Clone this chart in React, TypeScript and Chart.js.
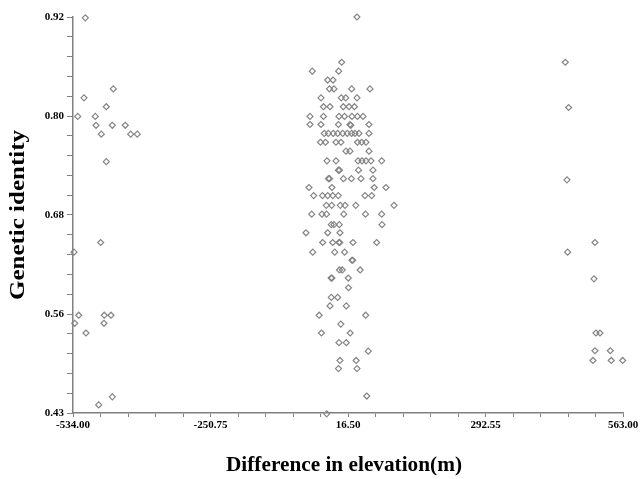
import React, { useEffect, useRef } from "react";
import { Chart, registerables } from "chart.js";

Chart.register(...registerables);

// Tick labels as printed on the reference axes
const xTickLabels = ["-534.00", "-250.75", "16.50", "292.55", "563.00"];
const yTickLabels = ["0.43", "0.56", "0.68", "0.80", "0.92"];
const xTitle = "Difference in elevation(m)";
const yTitle = "Genetic identity";

const xMin = -534;
const xMax = 563;
const yMin = 0.434;
const yMax = 0.924;

// Pairwise comparisons: difference in elevation (m) vs genetic identity
const leftX = [-509.5, -512.1, -453.6, -524.6, -489.5, -467.6, -488.1, -455.6, -429.7, -477.6, -418.9, -405.8, -467.6, -478.8, -532, -522.6, -530.6, -508.1, -471.6, -458.2, -472.2, -455.6, -482.7];
const leftY = [0.923, 0.824, 0.835, 0.801, 0.801, 0.813, 0.790, 0.790, 0.790, 0.779, 0.779, 0.779, 0.745, 0.645, 0.633, 0.555, 0.545, 0.533, 0.555, 0.555, 0.545, 0.454, 0.444];

const centerX = [
  32.4,
  1.9,
  -56.7, -4.1,
  -26, -15.4,
  -22.4, -13.5, 21.8, 58.3,
  -39.4, 1.1, 9.9, 32.4,
  -34.4, -21.4, 5.1, 16.5, 27.4,
  -61.3, -34.4, -3.5, 7.5, 22.4, 33.4, 44.4,
  -61.3, -39.4, -4.5, 18.4, 20, 56.3,
  -32.8, -24.8, -14.9, -6.1, 3.9, 13.1, 21.8, 28.4, 36.4, 56.3,
  -40.4, -30.4, -9.5, 0.5, 33.4, 41.8, 50.4,
  10.5, 18.4, 56.3,
  -27.4, -9.5, 34.4, 42.4, 50.4, 60.3, 81.7,
  -4.5, -2.5, 35.4, 64.3,
  -24.4, -22.4, 5.5, 21.4, 40.4, 64.3,
  -63.3, -17.5, 66.9, 90.2,
  -54, -36.4, -26, -16, -4.9, 48.4, 61.7,
  -28.8, -18, -0.9, 8.5, 30, 106.2,
  -57.9, -37.4, -28.4, 6.1, 49.4, 81.7,
  -18.8, -13.5, -2.9, 82.3,
  -69.3, -26, -1.5,
  -36, -16, -3.5, -1.9, 24.4, 71.7,
  -55.9, -11.9, 7.7,
  22.4, 24,
  -2.5, 3.1, 38.8,
  -19, -17.6, 15.1,
  15.5,
  -18.8, -6.1,
  -21.4, 11.1,
  -43, 49.8,
  0.1,
  -38.4, 18.8,
  -3.5, 11.1,
  54.9,
  -1.5, 30.8,
  -4.5, 32.4,
  52,
  -28,
];
const centerY = [
  0.924,
  0.868,
  0.857, 0.857,
  0.846, 0.846,
  0.835, 0.835, 0.835, 0.835,
  0.824, 0.824, 0.824, 0.824,
  0.813, 0.813, 0.813, 0.813, 0.813,
  0.801, 0.801, 0.801, 0.801, 0.801, 0.801, 0.801,
  0.791, 0.791, 0.791, 0.791, 0.790, 0.791,
  0.780, 0.780, 0.780, 0.780, 0.780, 0.780, 0.780, 0.780, 0.780, 0.780,
  0.769, 0.769, 0.769, 0.769, 0.769, 0.769, 0.769,
  0.758, 0.758, 0.758,
  0.746, 0.746, 0.746, 0.746, 0.746, 0.746, 0.746,
  0.7345, 0.7345, 0.7345, 0.7345,
  0.724, 0.724, 0.724, 0.724, 0.724, 0.724,
  0.713, 0.713, 0.713, 0.713,
  0.703, 0.703, 0.703, 0.703, 0.703, 0.703, 0.703,
  0.691, 0.691, 0.691, 0.691, 0.691, 0.691,
  0.680, 0.680, 0.680, 0.680, 0.680, 0.680,
  0.667, 0.667, 0.667, 0.667,
  0.657, 0.657, 0.657,
  0.645, 0.645, 0.645, 0.645, 0.645, 0.645,
  0.633, 0.633, 0.633,
  0.623, 0.623,
  0.611, 0.611, 0.611,
  0.601, 0.601, 0.601,
  0.589,
  0.577, 0.577,
  0.5665, 0.5665,
  0.555, 0.555,
  0.544,
  0.533, 0.533,
  0.521, 0.521,
  0.5105,
  0.499, 0.499,
  0.489, 0.489,
  0.455,
  0.433,
];

const rightX = [447.9, 454.6, 451.2, 452.6, 507.1, 505.1, 509.1, 517.1, 507.1, 537.6, 503.1, 539.6, 562.3];
const rightY = [0.868, 0.812, 0.7225, 0.633, 0.645, 0.600, 0.533, 0.533, 0.511, 0.511, 0.499, 0.499, 0.499];

const allX = [...leftX, ...centerX, ...rightX];
const allY = [...leftY, ...centerY, ...rightY];

const W = 640;
const H = 479;
const AREA_LEFT = 73;
const AREA_RIGHT = 623;
const AREA_TOP = 17;
const AREA_BOTTOM = 413;
const FONT = "'Liberation Serif', 'Times New Roman', serif";

// Axis titles drawn as real text, stretched along their reading direction like the reference
const axisTitlePlugin = {
  id: "axisTitles",
  afterDraw(chart: any) {
    const ctx = chart.ctx as CanvasRenderingContext2D;
    const area = chart.chartArea;
    ctx.save();
    ctx.fillStyle = "#000";
    ctx.font = `bold 19px ${FONT}`;
    ctx.textAlign = "center";
    ctx.textBaseline = "middle";
    const xw = ctx.measureText(xTitle).width;
    const xs = 236 / xw;
    ctx.save();
    ctx.translate((area.left + area.right) / 2 - 4, 466);
    ctx.scale(xs, 1.05);
    ctx.fillText(xTitle, 0, 0);
    ctx.restore();
    const yw = ctx.measureText(yTitle).width;
    const ys = 170 / yw;
    ctx.save();
    ctx.translate(19, (area.top + area.bottom) / 2);
    ctx.rotate(-Math.PI / 2);
    ctx.scale(ys, 1.05);
    ctx.fillText(yTitle, 0, 0);
    ctx.restore();
    ctx.restore();
  },
};

export default function App() {
  const ref = useRef<HTMLCanvasElement | null>(null);

  useEffect(() => {
    if (!ref.current) return;
    const points = allX.map((x, i) => ({ x, y: allY[i] }));
    const xStep = (xMax - xMin) / 4;
    const yStep = (yMax - yMin) / 4;
    const xMinor = xStep / 5;
    const yMinor = yStep / 5;

    const chart = new Chart(ref.current, {
      type: "scatter",
      data: {
        datasets: [
          {
            data: points,
            pointStyle: "rectRot",
            pointRadius: 3,
            pointHoverRadius: 3,
            pointBorderWidth: 1.2,
            pointBorderColor: "#858585",
            pointBackgroundColor: "rgba(255,255,255,0)",
            clip: false as any,
          },
        ],
      },
      plugins: [axisTitlePlugin],
      options: {
        responsive: false,
        animation: false,
        layout: { padding: { left: 0, right: W - AREA_RIGHT, top: AREA_TOP, bottom: 0 } },
        plugins: { legend: { display: false }, tooltip: { enabled: false } },
        scales: {
          x: {
            type: "linear",
            min: xMin,
            max: xMax,
            afterBuildTicks: (scale: any) => {
              const t = [];
              for (let i = 0; i <= 20; i++) t.push({ value: xMin + i * xMinor });
              scale.ticks = t;
            },
            afterFit: (scale: any) => {
              scale.height = H - AREA_BOTTOM;
              scale.paddingLeft = 0;
              scale.paddingRight = 0;
            },
            ticks: {
              autoSkip: false,
              maxRotation: 0,
              color: "#000",
              padding: 2,
              font: { family: FONT, size: 11, weight: "bold" },
              callback: (_v: any, i: number) => (i % 5 === 0 ? xTickLabels[i / 5] : ""),
            },
            grid: {
              drawOnChartArea: false,
              drawTicks: true,
              tickLength: 4,
              tickColor: "#808080",
              tickWidth: 1,
            },
            border: { color: "#808080", width: 1.5 },
          },
          y: {
            type: "linear",
            min: yMin,
            max: yMax,
            afterBuildTicks: (scale: any) => {
              const t = [];
              for (let i = 0; i <= 20; i++) t.push({ value: yMin + i * yMinor });
              scale.ticks = t;
            },
            afterFit: (scale: any) => {
              scale.width = AREA_LEFT;
              scale.paddingTop = 0;
              scale.paddingBottom = 0;
            },
            ticks: {
              autoSkip: false,
              color: "#000",
              padding: 3,
              font: { family: FONT, size: 11, weight: "bold" },
              callback: (_v: any, i: number) => (i % 5 === 0 ? yTickLabels[i / 5] : ""),
            },
            grid: {
              drawOnChartArea: false,
              drawTicks: true,
              tickLength: 6,
              tickColor: "#808080",
              tickWidth: 1,
            },
            border: { color: "#808080", width: 1.5 },
          },
        },
      },
    });
    return () => chart.destroy();
  }, []);

  return (
    <div style={{ position: "fixed", left: 0, top: 0, width: W, height: H, background: "#fff" }}>
      <canvas ref={ref} width={W} height={H} style={{ width: W, height: H, display: "block" }} />
    </div>
  );
}
